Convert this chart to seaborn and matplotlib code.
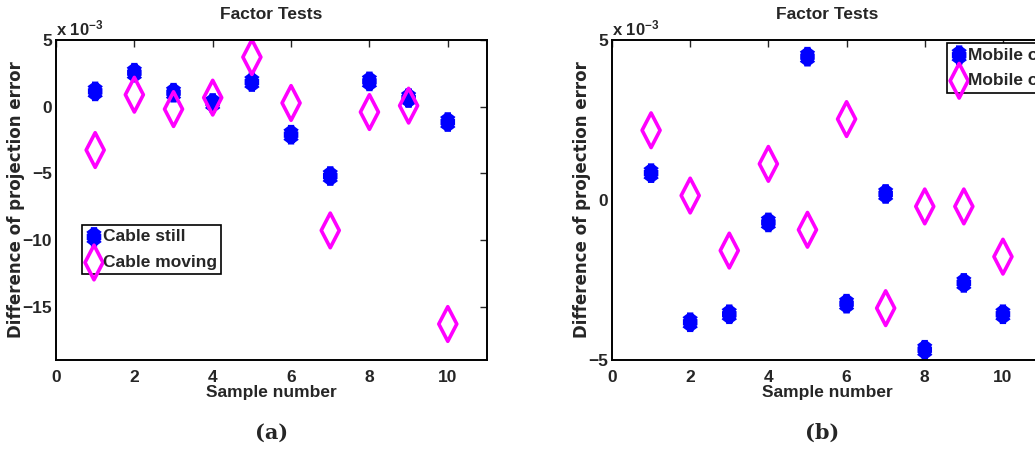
import matplotlib
matplotlib.use("Agg")
import matplotlib.pyplot as plt
from matplotlib.path import Path
import seaborn as sns
import numpy as np

# values, in units of 1e-3
samples = [1, 2, 3, 4, 5, 6, 7, 8, 9, 10]
cable_still = [1.15, 2.55, 1.05, 0.28, 1.85, -2.1, -5.2, 1.9, 0.65, -1.15]
cable_moving = [-3.25, 0.9, -0.18, 0.68, 3.72, 0.28, -9.28, -0.4, 0.08, -16.3]
mobile_on = [0.84, -3.82, -3.57, -0.70, 4.48, -3.24, 0.19, -4.68, -2.59, -3.57]
mobile_off = [2.18, 0.14, -1.58, 1.13, -0.93, 2.53, -3.38, -0.20, -0.20, -1.77]

sns.set_style("white")
plt.rcParams["font.family"] = ["Liberation Sans", "DejaVu Sans"]
plt.rcParams["font.weight"] = "bold"
plt.rcParams["mathtext.default"] = "regular"

# MATLAB-like markers (stretched vertically like the reference)
d = 0.707
sy = 1.35
star_path = Path(
    [(0, -sy), (0, sy), (-1, 0), (1, 0),
     (-d, -d * sy), (d, d * sy), (-d, d * sy), (d, -d * sy)],
    [Path.MOVETO, Path.LINETO] * 4,
)
diamond_path = Path(
    [(0, 1), (0.52, 0), (0, -1), (-0.52, 0), (0, 1)],
    [Path.MOVETO, Path.LINETO, Path.LINETO, Path.LINETO, Path.CLOSEPOLY],
)

fig = plt.figure(figsize=(10.35, 4.5), dpi=100)
ax1 = fig.add_axes([0.0541, 0.2, 0.4164, 0.711])
ax2 = fig.add_axes([0.5913, 0.2, 0.4155, 0.711])

panels = [
    (ax1, cable_still, cable_moving, "Cable still", "Cable moving", (-19, 5), [-15, -10, -5, 0, 5], (0.06, 0.422)),
    (ax2, mobile_on, mobile_off, "Mobile on", "Mobile off", (-5, 5), [-5, 0, 5], (0.779, 0.99)),
]

for ax, s1, s2, l1, l2, ylim, yticks, leg_pos in panels:
    sns.scatterplot(x=samples, y=s1, marker=star_path, s=200, facecolor="none",
                    edgecolor="blue", linewidth=4.5, label=l1, ax=ax)
    sns.scatterplot(x=samples, y=s2, marker=diamond_path, s=620, facecolor="none",
                    edgecolor="magenta", linewidth=2.6, label=l2, ax=ax)
    ax.set_xlim(0, 11)
    ax.set_ylim(*ylim)
    ax.set_xticks([0, 2, 4, 6, 8, 10])
    ax.set_yticks(yticks)
    ax.tick_params(direction="in", top=True, right=True, length=5, width=1,
                   labelsize=12.5, pad=7)
    ax.tick_params(axis="y", pad=3)
    for sp in ax.spines.values():
        sp.set_linewidth(1.4)
        sp.set_color("black")
    ax.set_xlabel("Sample number", fontsize=12.5, fontweight="bold", labelpad=0)
    ax.set_ylabel("Difference of projection error", fontsize=12, fontweight="bold",
                  family=["DejaVu Sans"], labelpad=-2)
    ax.set_title("Factor Tests", fontsize=12.5, fontweight="bold", pad=15)
    ax.text(0.0, 1.005, r"x 10$^{-3}$", transform=ax.transAxes, ha="left", va="bottom",
            fontsize=12)
    leg = ax.legend(loc="upper left", bbox_to_anchor=leg_pos, frameon=True, fancybox=False,
                    edgecolor="black", framealpha=1, handletextpad=0.05, borderpad=0.25,
                    labelspacing=0.6, handlelength=0.9, borderaxespad=0,
                    prop={"size": 12.5, "weight": "bold"})
    leg.get_frame().set_linewidth(1.2)

fig.text(0.2628, 0.038, "(a)", family="DejaVu Serif", fontweight="bold", fontsize=15,
         ha="center", va="center")
fig.text(0.7942, 0.038, "(b)", family="DejaVu Serif", fontweight="bold", fontsize=15,
         ha="center", va="center")

fig.savefig("out.png", dpi=100)
